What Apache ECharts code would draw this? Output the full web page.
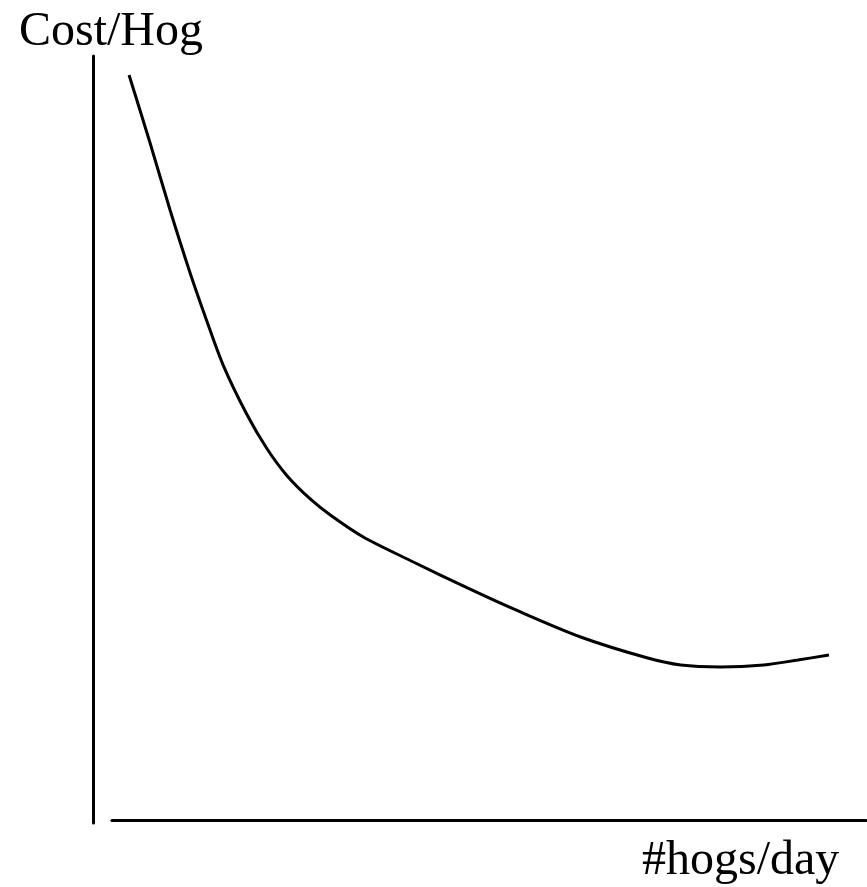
<!DOCTYPE html>
<html>
<head>
<meta charset="utf-8">
<script src="https://cdn.jsdelivr.net/npm/echarts@6/dist/echarts.min.js"></script>
<style>
html,body{margin:0;padding:0;background:#fff;}
#chart{width:867px;height:887px;}
</style>
</head>
<body>
<div id="chart"></div>
<script>
// Sketch data (arbitrary units, 0-100 on both axes)
const hogsPerDay = [2.26, 5.05, 7.70, 10.36, 12.48, 14.74, 17.93, 20.58, 23.24, 26.29, 28.95, 33.33, 39.97, 47.14, 53.25, 62.15, 71.05, 75.43, 80.74, 86.45, 90.97, 95.09];
const costPerHog = [97.51, 88.61, 79.84, 71.60, 65.58, 59.55, 53.01, 48.56, 45.03, 42.02, 39.92, 37.04, 33.77, 30.37, 27.62, 23.95, 21.20, 20.29, 20.03, 20.29, 20.94, 21.60];
const yLabel = 'Cost/Hog';
const xLabel = '#hogs/day';

const chart = echarts.init(document.getElementById('chart'));
const font = '"Liberation Serif", "Times New Roman", serif';
const hidden = {show:false};
chart.setOption({
  backgroundColor: '#fff',
  animation: false,
  title: [
    {text: yLabel, left: 19, top: 8, padding: 0, textStyle: {fontSize: 48, fontWeight: 'normal', fontFamily: font, color: '#000'}},
    {text: xLabel, left: 642, top: 837, padding: 0, textStyle: {fontSize: 48, fontWeight: 'normal', fontFamily: font, color: '#000'}}
  ],
  grid: [
    {left: 93, top: 56, width: 10, height: 767},
    {left: 112, top: 56, right: 1, height: 764}
  ],
  xAxis: [
    {gridIndex: 0, type: 'value', show: false, min: 0, max: 100},
    {gridIndex: 1, type: 'value', min: 0, max: 100,
     axisLine: {show: true, onZero: false, lineStyle: {color: '#000', width: 3}},
     axisTick: hidden, axisLabel: hidden, splitLine: hidden}
  ],
  yAxis: [
    {gridIndex: 0, type: 'value', min: 0, max: 100,
     axisLine: {show: true, onZero: false, lineStyle: {color: '#000', width: 3}},
     axisTick: hidden, axisLabel: hidden, splitLine: hidden},
    {gridIndex: 1, type: 'value', show: false, min: 0, max: 100}
  ],
  series: [{
    type: 'line',
    xAxisIndex: 1, yAxisIndex: 1,
    data: hogsPerDay.map((x, i) => [x, costPerHog[i]]),
    smooth: 0.3,
    showSymbol: false,
    lineStyle: {color: '#000', width: 3}
  }]
});
</script>
</body>
</html>
